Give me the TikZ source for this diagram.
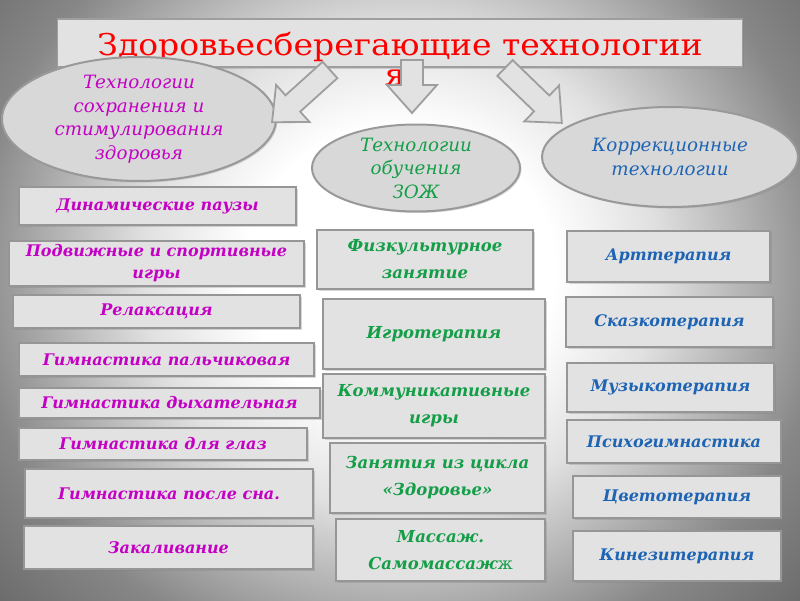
\documentclass[tikz,border=0pt]{standalone}
\usepackage{fontspec}
\setmainfont{DejaVu Serif}
\newfontfamily\titlefont[FakeStretch=1.1]{DejaVu Serif}
\usetikzlibrary{shapes.geometric,shadows}
\definecolor{tred}{RGB}{255,0,0}
\definecolor{tmag}{RGB}{196,0,196}
\definecolor{tgreen}{RGB}{20,158,72}
\definecolor{tblue}{RGB}{30,100,180}
\definecolor{boxfill}{RGB}{226,226,226}
\definecolor{boxline}{RGB}{150,150,150}
\definecolor{ellfill}{RGB}{216,216,216}
\pgfdeclareradialshading{bgshade}{\pgfpoint{0bp}{0bp}}{color(0bp)=(white); color(9bp)=(white); color(15bp)=(black!12); color(25bp)=(black!47); color(36bp)=(black!66); color(50bp)=(black!66)}
\newcommand\mkbox[7]{\node[itembox,#6,minimum width={#4-#2},minimum height={#5-#3}] (#1) at ({(#2+#4)/2},{(#3+#5)/2}) {#7};}
\newcommand\blockarr[4]{\draw[arrowst, shift={(#1,#2)}, rotate=#3] (0,-11) -- ({#4-28},-11) -- ({#4-28},-25) -- (#4,0) -- ({#4-28},25) -- ({#4-28},11) -- (0,11) -- cycle;}
\begin{document}
\begin{tikzpicture}[x=1pt,y=-1pt,
  every node/.style={inner sep=0pt, outer sep=0pt},
  itembox/.style={draw=boxline, line width=1.6pt, fill=boxfill,
    drop shadow={opacity=0.3, shadow xshift=1.5pt, shadow yshift=-1.5pt},
    align=center, font=\fontsize{16}{22}\selectfont\bfseries\itshape},
  magbox/.style={text=tmag},
  grnbox/.style={text=tgreen, font=\fontsize{16.5}{27}\selectfont\bfseries\itshape},
  blubox/.style={text=tblue},
  ellbox/.style={ellipse, draw=black!40, line width=2pt, fill=ellfill,
    drop shadow={opacity=0.3, shadow xshift=1.5pt, shadow yshift=-1.5pt},
    align=center, font=\fontsize{18.3}{23.5}\selectfont\itshape},
  titlebox/.style={draw=black!38, line width=1.8pt, fill=boxfill,
    drop shadow={opacity=0.3, shadow xshift=1.5pt, shadow yshift=-1.5pt}},
  titletxt/.style={text=tred, font=\titlefont\fontsize{30}{36}\selectfont},
  arrowst/.style={draw=black!38, line width=1.8pt, fill=boxfill, line join=miter}
]
\useasboundingbox (0,0) rectangle (800,600);
\begin{scope}
  \clip (0,0) rectangle (800,600);
  \shade[shading=bgshade] (-30,-130) rectangle (830,670);
\end{scope}

% title
\node[titlebox, minimum width=685, minimum height=48] (title) at (400,43) {};
\node[titletxt, anchor=base] (titletext) at (400,55) {Здоровьесберегающие технологии};
\node[titletxt, anchor=base] (titley) at (395,85) {я};

% ellipses
\node[ellbox, minimum width=274, minimum height=102, text=tmag] (eL) at (139,119)
  {Технологии\\сохранения и\\стимулирования\\здоровья};
\node[ellbox, minimum width=208, minimum height=87, text=tgreen] (eM) at (416,168)
  {Технологии\\обучения\\ЗОЖ};
\node[ellbox, minimum width=256, minimum height=100, text=tblue] (eR) at (670,157)
  {Коррекционные\\технологии};

% block arrows
\blockarr{330}{70}{-138}{78}
\blockarr{412}{60}{-90}{53}
\blockarr{505}{68}{-44}{79}

% left column
\mkbox{l1}{19}{187}{296}{225}{magbox}{Динамические паузы}
\mkbox{l2}{9}{241}{304}{286}{magbox}{Подвижные и спортивные\\игры}
\mkbox{l3}{13}{295}{300}{328}{magbox}{Релаксация}
\mkbox{l4}{19}{343}{314}{376}{magbox}{Гимнастика пальчиковая}
\mkbox{l5}{19}{388}{320}{418}{magbox}{Гимнастика дыхательная}
\mkbox{l6}{19}{428}{307}{460}{magbox}{Гимнастика для глаз}
\mkbox{l7}{25}{469}{313}{518}{magbox}{Гимнастика после сна.}
\mkbox{l8}{24}{526}{313}{569}{magbox}{Закаливание}

% middle column
\mkbox{m1}{317}{230}{533}{289}{grnbox}{Физкультурное\\занятие}
\mkbox{m2}{323}{299}{545}{369}{grnbox}{Игротерапия}
\mkbox{m3}{323}{374}{545}{438}{grnbox}{Коммуникативные\\игры}
\mkbox{m4}{330}{443}{545}{513}{grnbox}{Занятия из цикла\\«Здоровье»}
\mkbox{m5}{336}{519}{545}{581}{grnbox}{Массаж.\\Самомассаж{\normalfont\mdseries ж}}

% right column
\mkbox{r1}{567}{231}{770}{282}{blubox}{Арттерапия}
\mkbox{r2}{566}{297}{773}{347}{blubox}{Сказкотерапия}
\mkbox{r3}{567}{363}{774}{412}{blubox}{Музыкотерапия}
\mkbox{r4}{567}{420}{781}{463}{blubox}{Психогимнастика}
\mkbox{r5}{573}{476}{781}{518}{blubox}{Цветотерапия}
\mkbox{r6}{573}{531}{781}{581}{blubox}{Кинезитерапия}
\end{tikzpicture}
\end{document}
